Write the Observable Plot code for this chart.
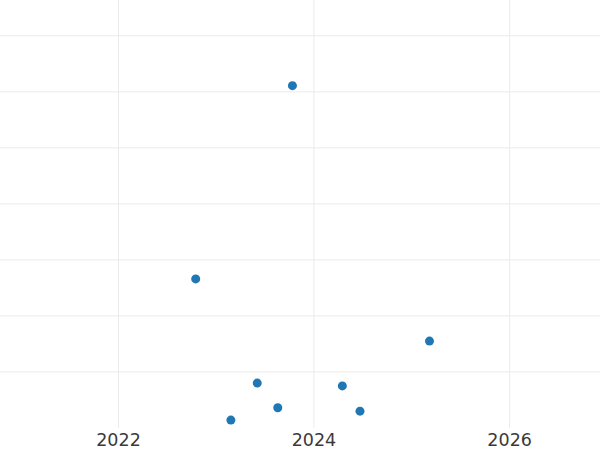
<!DOCTYPE html>
<html>
<head>
<meta charset="utf-8">
<script src="https://cdn.jsdelivr.net/npm/d3@7"></script>
<script src="https://cdn.jsdelivr.net/npm/@observablehq/plot@0.6"></script>
<style>
  html, body { margin: 0; padding: 0; background: #fff; }
  svg { display: block; }
</style>
</head>
<body>
<div id="chart"></div>
<script>
// Dates (fractional years) and values
const years = [2022.79, 2023.78, 2023.15, 2023.42, 2023.63, 2024.29, 2024.47, 2025.18];
const values = [26.6, 61.1, 1.4, 8.0, 3.6, 7.5, 3.0, 15.5];
const xTicks = [2022, 2024, 2026];
const yTicks = [10, 20, 30, 40, 50, 60, 70];

function yearToDate(y) {
  const yr = Math.floor(y);
  const start = new Date(Date.UTC(yr, 0, 1));
  const end = new Date(Date.UTC(yr + 1, 0, 1));
  return new Date(start.getTime() + (y - yr) * (end - start));
}

const data = years.map((y, i) => ({date: yearToDate(y), value: values[i]}));
const xTickDates = xTicks.map(y => yearToDate(y));

const chart = Plot.plot({
  width: 600,
  height: 450,
  marginLeft: 0,
  marginRight: 0,
  marginTop: 0,
  marginBottom: 22,
  style: {fontFamily: "DejaVu Sans", fontSize: "17.5px", color: "#333", background: "#fff"},
  x: {
    type: "utc",
    domain: [yearToDate(2020.793), yearToDate(2026.93)],
    label: null
  },
  y: {
    domain: [-0.1, 76.3],
    axis: null,
    label: null
  },
  marks: [
    Plot.gridY(yTicks, {stroke: "#ebebeb", strokeOpacity: 1, strokeWidth: 1}),
    Plot.gridX(xTickDates, {stroke: "#ebebeb", strokeOpacity: 1, strokeWidth: 1}),
    Plot.axisX(xTickDates, {tickSize: 0, tickPadding: 5, tickFormat: d3.utcFormat("%Y"), fill: "#3a3a3a", label: null}),
    Plot.dot(data, {x: "date", y: "value", r: 4.5, fill: "#1f77b4", stroke: "none"})
  ]
});
document.getElementById("chart").appendChild(chart);
</script>
</body>
</html>
